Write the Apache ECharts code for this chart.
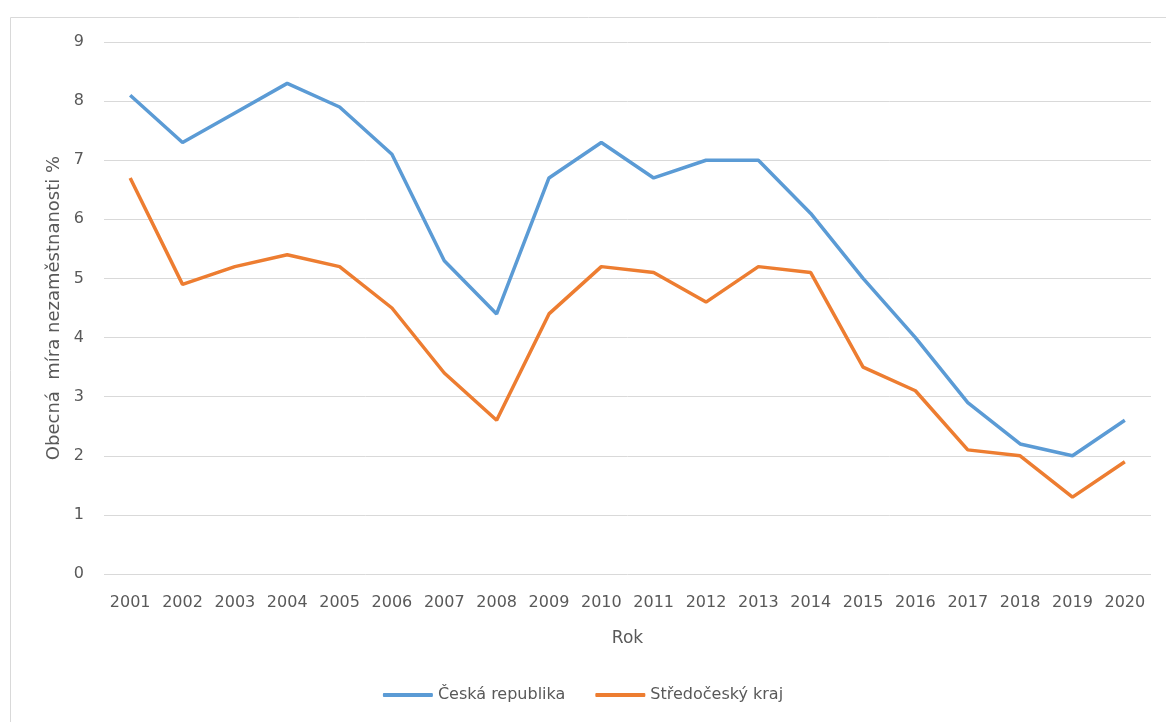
<!DOCTYPE html>
<html>
<head>
<meta charset="utf-8">
<script src="https://cdn.jsdelivr.net/npm/echarts@6/dist/echarts.min.js"></script>
</head>
<body style="margin:0">
<div id="chart" style="width:1166px;height:722px"></div>
<script>
var years = ['2001','2002','2003','2004','2005','2006','2007','2008','2009','2010',
             '2011','2012','2013','2014','2015','2016','2017','2018','2019','2020'];
var ceskaRepublika = [8.1, 7.3, 7.8, 8.3, 7.9, 7.1, 5.3, 4.4, 6.7, 7.3, 6.7, 7.0, 7.0, 6.1, 5.0, 4.0, 2.9, 2.2, 2.0, 2.6];
var stredoceskyKraj = [6.7, 4.9, 5.2, 5.4, 5.2, 4.5, 3.4, 2.6, 4.4, 5.2, 5.1, 4.6, 5.2, 5.1, 3.5, 3.1, 2.1, 2.0, 1.3, 1.9];

var font = '"DejaVu Sans", sans-serif';
var txt = '#595959';

var chart = echarts.init(document.getElementById('chart'));
chart.setOption({
  animation: false,
  textStyle: { fontFamily: font },
  graphic: [{
    type: 'rect',
    shape: { x: 10.5, y: 17.5, width: 1170, height: 720 },
    style: { fill: 'none', stroke: '#d9d9d9', lineWidth: 1 },
    silent: true
  }],
  grid: { left: 104, right: 15, top: 42, bottom: 148 },
  legend: {
    bottom: 14,
    left: 'center',
    itemWidth: 50,
    itemHeight: 4,
    itemGap: 30,
    icon: 'roundRect',
    textStyle: { color: txt, fontSize: 16, fontFamily: font },
    data: ['Česká republika', 'Středočeský kraj']
  },
  xAxis: {
    type: 'category',
    data: years,
    boundaryGap: true,
    name: 'Rok',
    nameLocation: 'middle',
    nameGap: 56,
    nameTextStyle: { color: txt, fontSize: 17 },
    axisLine: { show: false },
    axisTick: { show: false },
    axisLabel: { color: txt, fontSize: 16, margin: 21, interval: 0 }
  },
  yAxis: {
    type: 'value',
    min: 0,
    max: 9,
    interval: 1,
    name: 'Obecná  míra nezaměstnanosti %',
    nameLocation: 'middle',
    nameGap: 38,
    nameTextStyle: { color: txt, fontSize: 18 },
    axisLine: { show: false },
    axisTick: { show: false },
    axisLabel: { color: txt, fontSize: 16, margin: 20 },
    splitLine: { lineStyle: { color: '#d9d9d9', width: 1 } }
  },
  series: [{
    name: 'Česká republika',
    type: 'line',
    data: ceskaRepublika,
    symbol: 'none',
    color: '#5b9bd5',
    lineStyle: { width: 3.5, color: '#5b9bd5' }
  }, {
    name: 'Středočeský kraj',
    type: 'line',
    data: stredoceskyKraj,
    symbol: 'none',
    color: '#ed7d31',
    lineStyle: { width: 3.5, color: '#ed7d31' }
  }]
});
</script>
</body>
</html>
